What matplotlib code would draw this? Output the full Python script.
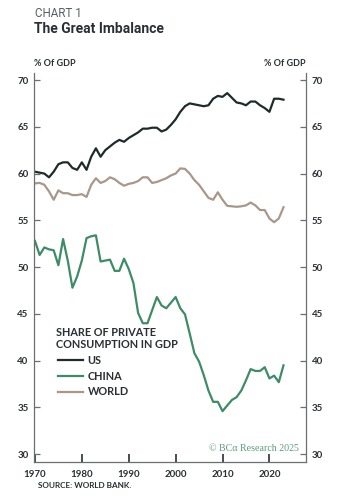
import matplotlib
matplotlib.use("Agg")
import matplotlib.pyplot as plt

years = list(range(1970, 2024))

us = [60.2, 60.1, 60.0, 59.6, 60.2, 61.0, 61.2, 61.2, 60.6, 60.4,
      61.2, 60.4, 61.8, 62.7, 61.8, 62.5, 62.9, 63.3, 63.6, 63.4,
      63.8, 64.1, 64.4, 64.8, 64.8, 64.9, 64.9, 64.5, 64.7, 65.2,
      65.8, 66.6, 67.2, 67.5, 67.4, 67.3, 67.2, 67.3, 68.0, 68.3,
      68.2, 68.6, 68.1, 67.6, 67.5, 67.3, 67.7, 67.7, 67.3, 67.0,
      66.6, 68.0, 68.0, 67.9]

china = [52.8, 51.3, 52.1, 51.9, 51.8, 50.2, 53.0, 50.7, 47.8, 49.0,
         50.7, 53.1, 53.3, 53.4, 50.6, 50.7, 50.8, 49.6, 49.6, 50.9,
         49.8, 48.3, 45.1, 44.0, 44.0, 45.4, 46.8, 45.9, 45.6, 46.2,
         46.8, 45.6, 44.95, 42.9, 40.8, 39.9, 38.45, 36.8, 35.6, 35.6,
         34.6, 35.2, 35.8, 36.1, 36.8, 37.9, 39.1, 38.9, 38.9, 39.3,
         38.1, 38.4, 37.7, 39.5]

world = [58.95, 59.0, 58.8, 58.1, 57.2, 58.2, 57.9, 57.9, 57.7, 57.7,
         57.8, 57.5, 58.8, 59.5, 59.0, 59.2, 59.6, 59.4, 59.0, 58.7,
         58.9, 59.0, 59.2, 59.6, 59.6, 59.0, 59.1, 59.3, 59.5, 59.8,
         60.0, 60.55, 60.5, 60.0, 59.3, 58.8, 58.1, 57.4, 57.2, 58.0,
         57.2, 56.55, 56.5, 56.45, 56.5, 56.6, 56.9, 56.6, 56.1, 56.1,
         55.2, 54.8, 55.2, 56.4]

series_names = ["US", "CHINA", "WORLD"]
x_ticks = [1970, 1980, 1990, 2000, 2010, 2020]
y_ticks = [30, 35, 40, 45, 50, 55, 60, 65, 70]

C_US = "#1f2b2b"
C_CHINA = "#3d8c66"
C_WORLD = "#a9978a"
C_TEXT = "#2a2f33"
C_AXIS = "#6b6f72"

plt.rcParams["font.family"] = ["Lato", "DejaVu Sans"]

fig = plt.figure(figsize=(3.4, 5.0), dpi=100)
fig.patch.set_facecolor("white")
ax = fig.add_axes([0.1, 0.0766, 0.8, 0.7774])

lw = 1.6
ax.plot(years, us, color=C_US, lw=lw, label=series_names[0], solid_joinstyle="round")
ax.plot(years, china, color=C_CHINA, lw=lw, label=series_names[1], solid_joinstyle="round")
ax.plot(years, world, color=C_WORLD, lw=lw, label=series_names[2], solid_joinstyle="round")

ax.set_xlim(1969.8, 2027.8)
ax.set_ylim(29.2, 70.75)
ax.set_xticks(x_ticks)
ax.set_yticks(y_ticks)

ax.spines["top"].set_visible(False)
for side in ("left", "right", "bottom"):
    ax.spines[side].set_color(C_AXIS)
    ax.spines[side].set_linewidth(0.9)

ax.tick_params(axis="x", direction="in", length=6, width=1.2, color=C_TEXT,
               pad=6, labelsize=7, labelcolor=C_TEXT)
ax.tick_params(axis="y", direction="in", length=4, width=0.9, color=C_AXIS,
               pad=4, labelsize=7, labelcolor=C_TEXT,
               left=True, right=True, labelleft=True, labelright=True)
for lab in ax.get_xticklabels() + ax.get_yticklabels():
    lab.set_fontweight("bold")

# Headings
fig.text(0.103, 0.966, "CHART 1", fontsize=8.4, color="#5a5e61",
         ha="left", va="baseline", family=["Roboto", "DejaVu Sans"])
fig.text(0.101, 0.934, "The Great Imbalance", fontsize=10, color=C_TEXT,
         ha="left", va="baseline", family=["Roboto", "DejaVu Sans"], fontweight="bold")
fig.text(0.101, 0.872, "% Of GDP", fontsize=6.5, color=C_TEXT,
         ha="left", va="center", fontweight="bold")
fig.text(0.9, 0.872, "% Of GDP", fontsize=6.5, color=C_TEXT,
         ha="right", va="center", fontweight="bold")

# Legend block: heading and series keys
ax.text(0.081, 0.346, "SHARE OF PRIVATE\nCONSUMPTION IN GDP", transform=ax.transAxes,
        fontsize=7.8, fontweight="bold", color=C_TEXT, ha="left", va="top",
        linespacing=1.05)
leg = ax.legend(loc="upper left", bbox_to_anchor=(0.088, 0.274), frameon=False,
                prop={"size": 7.8, "weight": "bold"},
                handlelength=2.3, handletextpad=0.45, labelspacing=0.42,
                borderaxespad=0.0, borderpad=0.0)
for t in leg.get_texts():
    t.set_color(C_TEXT)

ax.text(0.975, 0.022, "© BCα Research 2025", transform=ax.transAxes,
        fontsize=7.2, color="#5c9e7d", ha="right", va="bottom",
        family=["Liberation Serif", "DejaVu Serif"])

fig.text(0.112, 0.028, "SOURCE: WORLD BANK.", fontsize=5.9, color=C_TEXT,
         ha="left", va="center", fontweight="bold")

fig.savefig("out.png", dpi=100, facecolor="white")
